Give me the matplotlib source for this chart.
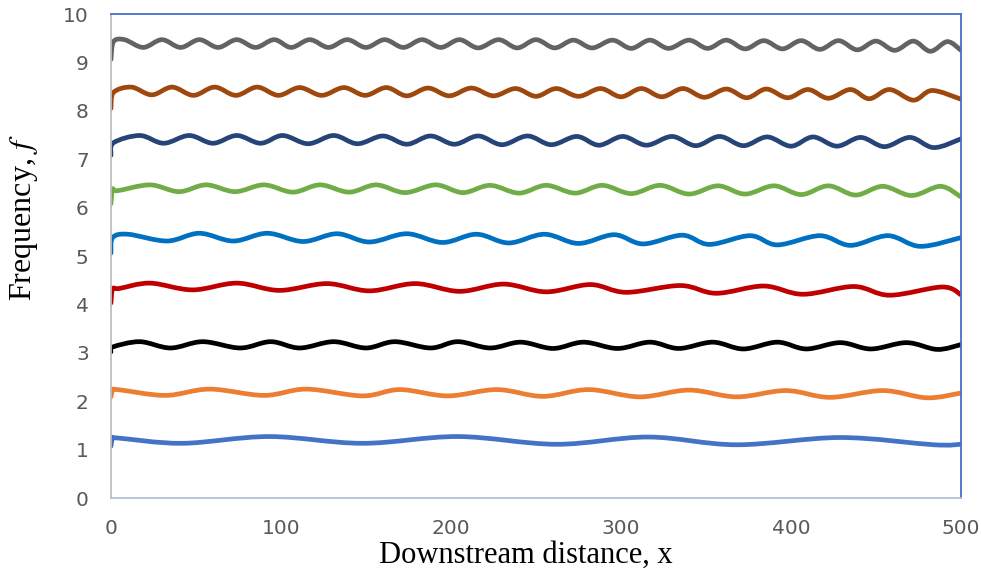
import numpy as np
import matplotlib.pyplot as plt
from matplotlib.path import Path
from matplotlib.patches import PathPatch

plt.rcParams['mathtext.fontset'] = 'stix'

# turning points (x, f) of each frequency trace, lowest to highest
f1 = [(0, 1.07), (1, 1.23), (4, 1.24), (42, 1.13), (93, 1.27), (148, 1.13), (204, 1.27),
      (262, 1.11), (316, 1.26), (368, 1.10), (429, 1.25), (484, 1.10), (500, 1.11)]
f2 = [(0, 2.09), (1, 2.22), (4, 2.24), (32, 2.12), (58, 2.25), (90, 2.12), (115, 2.25),
      (148, 2.11), (170, 2.24), (198, 2.11), (227, 2.24), (254, 2.10), (281, 2.24),
      (311, 2.09), (340, 2.23), (368, 2.09), (397, 2.22), (423, 2.08), (454, 2.22),
      (480, 2.07), (500, 2.17)]
f3 = [(0, 3.02), (1, 3.12), (17, 3.23), (35, 3.10), (54, 3.23), (76, 3.10), (94, 3.23),
      (111, 3.10), (131, 3.23), (150, 3.10), (167, 3.23), (188, 3.10), (204, 3.23),
      (223, 3.10), (241, 3.22), (260, 3.09), (278, 3.22), (298, 3.09), (317, 3.22),
      (334, 3.09), (354, 3.22), (372, 3.08), (392, 3.22), (409, 3.08), (429, 3.21),
      (447, 3.08), (468, 3.21), (486, 3.07), (500, 3.17)]
f4 = [(0, 4.03), (1, 4.32), (5, 4.33), (23, 4.44), (48, 4.30), (74, 4.44), (99, 4.29),
      (127, 4.43), (152, 4.28), (179, 4.43), (205, 4.27), (231, 4.42), (256, 4.26),
      (282, 4.41), (303, 4.25), (335, 4.39), (356, 4.23), (384, 4.38), (407, 4.21),
      (437, 4.37), (458, 4.19), (489, 4.36), (500, 4.20)]
f5 = [(0, 5.06), (1, 5.38), (10, 5.45), (33, 5.31), (52, 5.47), (72, 5.31), (92, 5.47),
      (113, 5.30), (133, 5.46), (152, 5.29), (174, 5.46), (195, 5.28), (215, 5.45),
      (234, 5.27), (255, 5.45), (275, 5.26), (296, 5.44), (313, 5.25), (336, 5.43),
      (352, 5.24), (376, 5.42), (392, 5.23), (417, 5.42), (435, 5.22), (457, 5.42),
      (476, 5.20), (500, 5.38)]
f6 = [(0, 6.08), (1, 6.38), (4, 6.35), (23, 6.47), (40, 6.33), (56, 6.47), (73, 6.33),
      (90, 6.47), (107, 6.32), (123, 6.47), (140, 6.32), (156, 6.47), (173, 6.31),
      (191, 6.47), (207, 6.31), (223, 6.46), (240, 6.30), (256, 6.46), (273, 6.30),
      (289, 6.46), (306, 6.29), (323, 6.46), (340, 6.28), (357, 6.45), (373, 6.28),
      (390, 6.45), (406, 6.27), (422, 6.45), (438, 6.26), (454, 6.44), (471, 6.25),
      (488, 6.44), (500, 6.22)]
f7 = [(0, 7.08), (1.5, 7.34), (17, 7.49), (31, 7.33), (46, 7.49), (60, 7.33), (74, 7.49),
      (88, 7.33), (101, 7.49), (116, 7.32), (131, 7.49), (145, 7.32), (160, 7.48),
      (174, 7.31), (188, 7.48), (202, 7.31), (216, 7.48), (230, 7.30), (245, 7.48),
      (259, 7.30), (274, 7.47), (287, 7.29), (301, 7.47), (315, 7.29), (330, 7.47),
      (344, 7.28), (358, 7.47), (372, 7.28), (386, 7.46), (400, 7.27), (413, 7.46),
      (427, 7.27), (441, 7.45), (455, 7.26), (470, 7.45), (484, 7.24), (500, 7.42)]
f8 = [(0, 8.05), (1.5, 8.38), (12, 8.49), (24, 8.33), (36, 8.49), (48.5, 8.32), (61, 8.49),
      (73.5, 8.32), (86, 8.49), (98.5, 8.32), (111, 8.48), (124, 8.32), (137, 8.48),
      (149.5, 8.32), (162, 8.48), (174, 8.31), (186.5, 8.47), (199, 8.31), (212, 8.47),
      (225, 8.31), (238, 8.46), (250, 8.30), (262, 8.46), (275, 8.30), (288, 8.46),
      (300, 8.29), (312, 8.46), (324, 8.29), (336.5, 8.46), (349, 8.28), (362, 8.45),
      (374, 8.27), (385.5, 8.45), (398, 8.27), (410, 8.44), (422, 8.26), (435, 8.44),
      (446, 8.25), (458, 8.44), (472, 8.22), (483, 8.42), (500, 8.24)]
f9 = [(0, 9.06), (1.5, 9.43), (8, 9.47), (19, 9.31), (30, 9.47), (41, 9.31), (52, 9.47),
      (63, 9.31), (74, 9.47), (85, 9.31), (96, 9.47), (106, 9.31), (117, 9.47), (128, 9.31),
      (139, 9.47), (150, 9.31), (161, 9.47), (172, 9.31), (183, 9.47), (194, 9.31),
      (205, 9.47), (216, 9.30), (228, 9.47), (239, 9.30), (250, 9.47), (261, 9.30),
      (272, 9.46), (283, 9.30), (295, 9.46), (306, 9.29), (317, 9.46), (328, 9.29),
      (340, 9.46), (351, 9.29), (362, 9.46), (373, 9.28), (384, 9.45), (395, 9.28),
      (406, 9.45), (417, 9.27), (428, 9.45), (439, 9.26), (450, 9.44), (461, 9.25),
      (472, 9.44), (482, 9.23), (492, 9.43), (500, 9.25)]

traces = [f1, f2, f3, f4, f5, f6, f7, f8, f9]
colors = ['#4472C4', '#ED7D31', '#000000', '#C00000', '#0070C0',
          '#70AD47', '#264478', '#9E480E', '#636363']

x_ticks = [0, 100, 200, 300, 400, 500]
y_ticks = [0, 1, 2, 3, 4, 5, 6, 7, 8, 9, 10]


def smooth_path(pts):
    # smoothed line through the points (cubic Bezier, Catmull-Rom style)
    p = np.asarray(pts, float)
    n = len(p)
    verts = [p[0]]
    codes = [Path.MOVETO]
    for i in range(n - 1):
        p0 = p[i - 1] if i > 0 else p[i]
        p3 = p[i + 2] if i + 2 < n else p[i + 1]
        verts += [p[i] + (p[i + 1] - p0) / 6, p[i + 1] - (p3 - p[i]) / 6, p[i + 1]]
        codes += [Path.CURVE4] * 3
    return Path(verts, codes)


fig = plt.figure(figsize=(9.81, 5.70), dpi=100)
ax = fig.add_axes([0.1131, 0.1263, 0.8665, 0.8491])

for pts, c in zip(traces, colors):
    ax.add_patch(PathPatch(smooth_path(pts), facecolor='none', edgecolor=c,
                           lw=3.4, capstyle='round', joinstyle='round'))

ax.set_xlim(0, 500)
ax.set_ylim(0, 10)
ax.set_xticks(x_ticks)
ax.set_yticks(y_ticks)

tick_font = {'family': 'Liberation Sans Narrow', 'size': 14.5, 'color': '#595959'}
ax.set_xticklabels([str(v) for v in x_ticks], fontdict=tick_font)
ax.set_yticklabels([str(v) for v in y_ticks], fontdict=tick_font)
ax.tick_params(axis='both', length=0)
ax.tick_params(axis='x', pad=15)
ax.tick_params(axis='y', pad=16)

ax.spines['left'].set_color('#BFBFBF')
ax.spines['bottom'].set_color('#B4BFD0')
ax.spines['top'].set_color('#4472C4')
ax.spines['right'].set_color('#4472C4')
for s in ax.spines.values():
    s.set_linewidth(1.3)

ax.set_xlabel('Downstream distance, x', family='Liberation Serif', size=22)
ax.set_ylabel('Frequency, $f$', family='Liberation Serif', size=23)
ax.xaxis.set_label_coords(0.488, -0.089)
ax.yaxis.set_label_coords(-0.084, 0.58)

fig.savefig('out.png', dpi=100)
